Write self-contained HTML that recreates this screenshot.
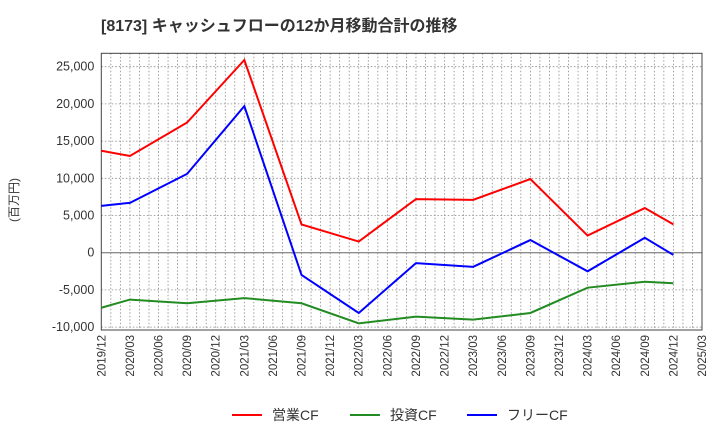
<!DOCTYPE html>
<html><head><meta charset="utf-8"><style>
body{margin:0;background:#fff;}
svg text{font-family:"Liberation Sans","Noto Sans CJK JP",sans-serif;}
</style></head><body>
<svg width="720" height="440" id="c">
<text x="101" y="31" font-size="16" font-weight="bold" fill="#333">[8173]  キャッシュフローの12か月移動合計の推移</text>
<text transform="translate(18,200) rotate(-90)" font-size="12" fill="#333" text-anchor="middle">(百万円)</text>
<g id="grid"></g><g id="axes"></g><g id="series"></g>
<g>
<line x1="232" y1="415" x2="262" y2="415" stroke="#ff0000" stroke-width="2"/><text x="272" y="420" font-size="14" fill="#333">営業CF</text>
<line x1="350" y1="415" x2="380" y2="415" stroke="#228b22" stroke-width="2"/><text x="390" y="420" font-size="14" fill="#333">投資CF</text>
<line x1="467" y1="415" x2="497" y2="415" stroke="#0000ff" stroke-width="2"/><text x="507" y="420" font-size="14" fill="#333">フリーCF</text>
</g>
</svg>
<script>
const xLabels=["2019/12","2020/03","2020/06","2020/09","2020/12","2021/03","2021/06","2021/09","2021/12","2022/03","2022/06","2022/09","2022/12","2023/03","2023/06","2023/09","2023/12","2024/03","2024/06","2024/09","2024/12","2025/03"];
const yTicks=[25000,20000,15000,10000,5000,0,-5000,-10000];
const pointIdx=[0,1,3,5,7,9,11,13,15,17,19,20];
const operatingCF=[13700,13000,17500,25900,3800,1500,7200,7100,9900,2300,6000,3800];
const investingCF=[-7400,-6300,-6800,-6100,-6800,-9500,-8600,-9000,-8100,-4700,-3900,-4100];
const freeCF=[6300,6700,10600,19700,-3000,-8100,-1400,-1900,1700,-2500,2000,-300];
const NS="http://www.w3.org/2000/svg";
const L=101.3,R=702,T=53.3,B=330;
const qx=i=>L+(R-L)*i/21;
const y=v=>252.7-v*0.00744;
function mk(t,a,p){const e=document.createElementNS(NS,t);for(const k in a)e.setAttribute(k,a[k]);document.getElementById(p).appendChild(e);return e;}
for(let m=1;m<63;m++){const x=L+(R-L)*m/63;const g=mk('line',{x1:x,x2:x,y1:T,y2:B,stroke:'#888','stroke-width':0.8,'stroke-dasharray':'1.5,2'},'grid');

}
yTicks.forEach(v=>{const yy=y(v);const g=mk('line',{x1:L,x2:R,y1:yy,y2:yy,stroke:v===0?'#666':'#888','stroke-width':v===0?1:0.8,'stroke-dasharray':v===0?'':'1.5,2'},'grid');


const t=mk('text',{x:L-7,y:yy+4,'font-size':12.5,fill:'#333','text-anchor':'end'},'axes');t.textContent=v.toLocaleString('en-US');

});
const fr=mk('rect',{x:L,y:T,width:R-L,height:B-T,fill:'none',stroke:'#444','stroke-width':1},'axes');


xLabels.forEach((s,i)=>{const x=qx(i);const t=mk('text',{transform:`translate(${x+4},${B+5}) rotate(-90)`,'font-size':11.5,fill:'#333','text-anchor':'end'},'axes');t.textContent=s;

});
[[operatingCF,'#ff0000','operating-cf-line'],[investingCF,'#228b22','investing-cf-line'],[freeCF,'#0000ff','free-cf-line']].forEach(([d,c,n])=>{
const p=mk('polyline',{points:d.map((v,k)=>qx(pointIdx[k])+','+y(v)).join(' '),fill:'none',stroke:c,'stroke-width':2},'series');

});
</script>
</body></html>
